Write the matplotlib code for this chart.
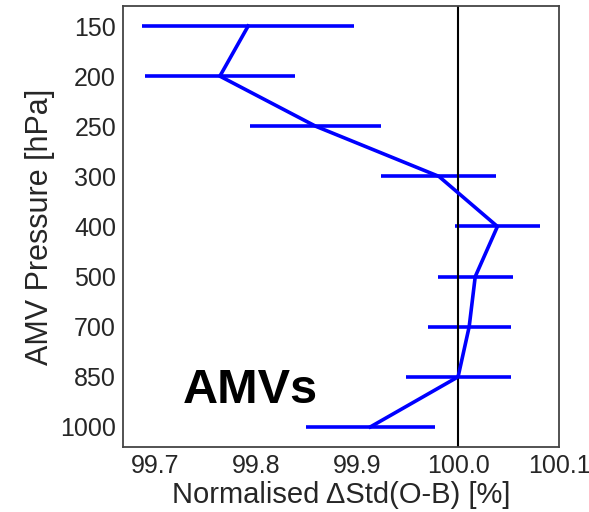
import matplotlib
matplotlib.use("Agg")
import matplotlib.pyplot as plt
import numpy as np

# levels (hPa) and normalised std values
levels = ["150", "200", "250", "300", "400", "500", "700", "850", "1000"]
values = [99.792, 99.764, 99.859, 99.981, 100.039, 100.017, 100.011, 100.000, 99.913]
errors = [0.105, 0.074, 0.065, 0.057, 0.042, 0.037, 0.041, 0.052, 0.064]
xticks = [99.7, 99.8, 99.9, 100.0, 100.1]

plt.rcParams['font.family'] = ['Liberation Sans', 'DejaVu Sans']
plt.rcParams['text.color'] = '#262626'
plt.rcParams['axes.labelcolor'] = '#262626'
plt.rcParams['xtick.color'] = '#262626'
plt.rcParams['ytick.color'] = '#262626'

fig = plt.figure(figsize=(5.89, 5.12), dpi=100)
ax = fig.add_axes([123 / 589, 1 - 447 / 512, (559 - 123) / 589, (447 - 6) / 512])

ypos = np.arange(len(levels))
ax.errorbar(values, ypos, xerr=errors, color='blue', lw=2.6, elinewidth=2.6, capsize=0)
ax.axvline(100.0, color='black', lw=1.5)

ax.set_yticks(ypos)
ax.set_yticklabels(levels)
ax.set_ylim(8.4, -0.4)
ax.set_xticks(xticks)
ax.set_xticklabels(["%.1f" % t for t in xticks])
ax.set_xlim(99.668, 100.1)
ax.tick_params(axis='both', length=0, labelsize=18, pad=5)

ax.set_ylabel("AMV Pressure [hPa]", fontsize=22, labelpad=4)
ax.set_xlabel("Normalised \u0394Std(O-B) [%]", fontsize=21, labelpad=2)

for s in ax.spines.values():
    s.set_color('#444444')
    s.set_linewidth(1.3)

ax.text(99.794, 7.27, "AMVs", fontsize=35, fontweight='bold', color='black',
        ha='center', va='center')

fig.savefig("out.png", dpi=100)
